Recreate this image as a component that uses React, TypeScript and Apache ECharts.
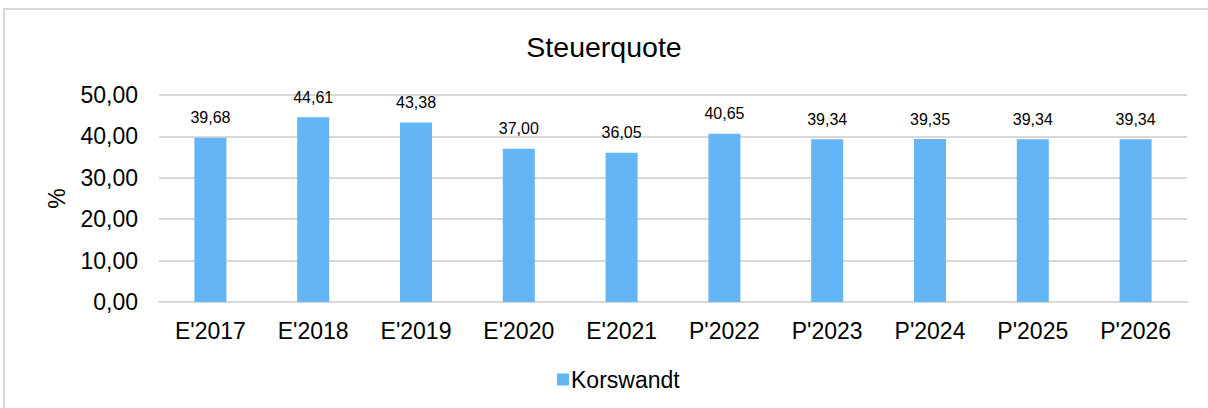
import React, { useEffect, useRef } from "react";
import * as echarts from "echarts";

const categories = ["E'2017", "E'2018", "E'2019", "E'2020", "E'2021", "P'2022", "P'2023", "P'2024", "P'2025", "P'2026"];
const values = [39.68, 44.61, 43.38, 37.0, 36.05, 40.65, 39.34, 39.35, 39.34, 39.34];
const seriesName = "Korswandt";
const titleText = "Steuerquote";
const yAxisName = "%";

const fmt = (v: number) => v.toFixed(2).replace(".", ",");

export default function App() {
  const ref = useRef<HTMLDivElement>(null);
  useEffect(() => {
    document.body.style.margin = "0";
    const chart = echarts.init(ref.current!, undefined, { renderer: "svg" });
    const font = "'Liberation Sans', Arial, sans-serif";
    chart.setOption({
      animation: false,
      textStyle: { fontFamily: font },
      graphic: [
        {
          type: "rect",
          shape: { x: 4, y: 9, width: 1400, height: 600 },
          style: { fill: "none", stroke: "#d9d9d9", lineWidth: 2 },
          silent: true,
        },
      ],
      title: {
        text: titleText,
        left: "center",
        top: 27,
        textStyle: { fontFamily: font, fontSize: 28.5, fontWeight: "normal", color: "#000" },
      },
      legend: {
        data: [seriesName],
        bottom: 12,
        left: 552,
        itemWidth: 12,
        itemHeight: 12,
        itemGap: 4,
        textStyle: { fontFamily: font, fontSize: 23, color: "#000", padding: [0, 0, 0, -3] },
        icon: "rect",
      },
      grid: { left: 159, right: 21, top: 95, bottom: 106, containLabel: false },
      xAxis: {
        type: "category",
        data: categories,
        axisTick: { show: false },
        axisLine: { lineStyle: { color: "#d9d9d9", width: 2 } },
        axisLabel: { fontFamily: font, fontSize: 23, color: "#000", margin: 17 },
      },
      yAxis: {
        type: "value",
        min: 0,
        max: 50,
        interval: 10,
        name: yAxisName,
        nameLocation: "middle",
        nameGap: 91,
        nameRotate: 90,
        nameTextStyle: { fontFamily: font, fontSize: 23, color: "#000" },
        axisLabel: { fontFamily: font, fontSize: 23, color: "#000", margin: 21, formatter: (v: number) => fmt(v) },
        splitLine: { lineStyle: { color: "#d9d9d9", width: 2 } },
        axisLine: { show: false },
        axisTick: { show: false },
      },
      series: [
        {
          name: seriesName,
          type: "bar",
          data: values,
          barWidth: 32,
          itemStyle: { color: "#64b5f6" },
          label: {
            show: true,
            position: "top",
            distance: 12,
            fontFamily: font,
            fontSize: 16,
            color: "#000",
            formatter: (p: any) => fmt(p.value),
          },
        },
      ],
    });
    return () => chart.dispose();
  }, []);
  return <div ref={ref} style={{ width: 1208, height: 408 }} />;
}
